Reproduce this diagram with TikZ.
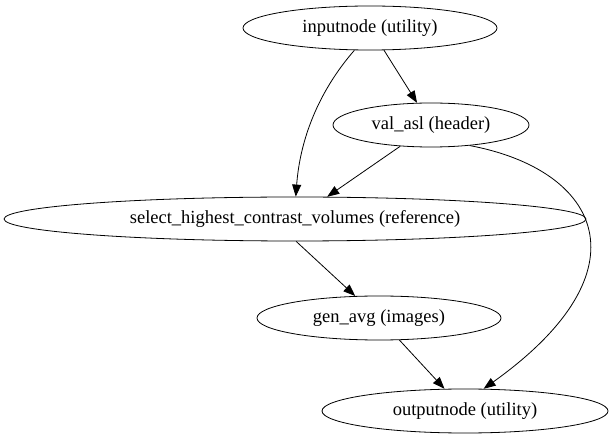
\documentclass[tikz,border=0pt]{standalone}
\usepackage{fontspec}
\setmainfont{Liberation Serif}
\usetikzlibrary{shapes.geometric,arrows.meta}
\begin{document}
\begin{tikzpicture}[x=1pt,y=-1pt,
  n/.style={draw,ellipse,line width=0.8pt,inner sep=0pt,minimum height=44pt,font=\fontsize{18.5}{20}\selectfont},
  e/.style={-{Triangle[length=12pt,width=9pt]},line width=0.8pt}]
\useasboundingbox (0,0) rectangle (613,443);
\node[n,minimum width=254pt] (in) at (370,28) {inputnode (utility)};
\node[n,minimum width=196pt] (val) at (431,125) {val\_asl (header)};
\node[n,minimum width=582pt] (sel) at (295,219) {select\_highest\_contrast\_volumes (reference)};
\node[n,minimum width=244pt] (gen) at (379,318) {gen\_avg (images)};
\node[n,minimum width=286pt] (out) at (465,411) {outputnode (utility)};
\draw[e] (in) -- (val);
\draw[e] (in.235) .. controls (318,92) and (300,140) .. (sel.88);
\draw[e] (val) -- (sel);
\draw[e] (val.-28) .. controls (600,170) and (650,270) .. (out.50);
\draw[e] (sel.273) -- (gen);
\draw[e] (gen) -- (out);
\end{tikzpicture}
\end{document}
